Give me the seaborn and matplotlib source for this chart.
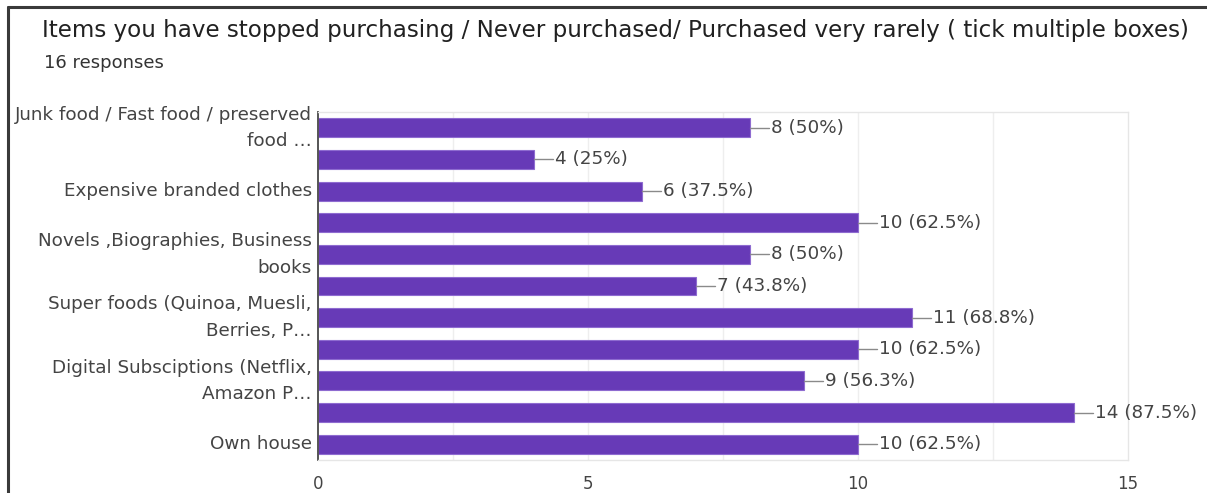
from decimal import Decimal, ROUND_HALF_UP
import numpy as np
import pandas as pd
import matplotlib
matplotlib.use("Agg")
import matplotlib.pyplot as plt
from matplotlib.lines import Line2D
import seaborn as sns

# Survey question and response count
title = "Items you have stopped purchasing / Never purchased/ Purchased very rarely ( tick multiple boxes)"
subtitle = "16 responses"
total_responses = 16

# Axis labels shown for the items (alternate rows carry no visible label)
item_labels = [
    "Junk food / Fast food / preserved\nfood \u2026",
    "",
    "Expensive branded clothes",
    "",
    "Novels ,Biographies, Business\nbooks",
    "",
    "Super foods (Quinoa, Muesli,\nBerries, P\u2026",
    "",
    "Digital Subsciptions (Netflix,\nAmazon P\u2026",
    "",
    "Own house",
]
counts = [8, 4, 6, 10, 8, 7, 11, 10, 9, 14, 10]
x_ticks = [0, 5, 10, 15]

df = pd.DataFrame({"row": np.arange(len(counts)), "count": counts})

sns.set_theme(style="white")
plt.rcParams["font.family"] = ["DejaVu Sans"]

fig = plt.figure(figsize=(12.07, 4.93), dpi=100)
ax = fig.add_axes([318 / 1207, 1 - 460 / 493, (1128 - 318) / 1207, (460 - 112) / 493])

purple = "#673ab7"
sns.barplot(data=df, x="count", y="row", orient="h", color=purple,
            width=0.6, saturation=1, edgecolor="#8e6bd0", linewidth=0.8, ax=ax)

ax.set_xlim(0, 15)
ax.set_ylim(len(counts) - 0.5, -0.5)

# light grid every 2.5, labelled ticks every 5
for gx in np.arange(2.5, 15, 2.5):
    ax.axvline(gx, color="#eeeeee", lw=1, zorder=0)
ax.set_xticks(x_ticks)
ax.set_xticklabels([str(t) for t in x_ticks])
ax.set_yticks(np.arange(len(counts)))
ax.set_yticklabels(item_labels, linespacing=1.6)
ax.tick_params(axis="x", length=0, pad=11, labelsize=12, labelcolor="#444444")
ax.tick_params(axis="y", length=0, pad=4.5, labelsize=13.2, labelcolor="#444444")
for lab in ax.get_yticklabels():
    lab.set_horizontalalignment("right")
    lab.set_verticalalignment("center")
ax.set_xlabel("")
ax.set_ylabel("")

for side in ("top", "right", "bottom"):
    ax.spines[side].set_visible(True)
    ax.spines[side].set_color("#e6e6e6")
    ax.spines[side].set_linewidth(1)
ax.spines["left"].set_color("#555555")
ax.spines["left"].set_linewidth(1.4)


def percent_text(v):
    pct = Decimal(100 * v) / Decimal(total_responses)
    pct = pct.quantize(Decimal("0.1"), rounding=ROUND_HALF_UP)
    txt = f"{pct}"
    return txt[:-2] if txt.endswith(".0") else txt


# value callouts with short leader lines
for i, v in enumerate(counts):
    ax.plot([v, v + 0.35], [i, i], color="#8a8a8a", lw=1, zorder=3)
    ax.text(v + 0.38, i, f"{v} ({percent_text(v)}%)", va="center", ha="left",
            fontsize=13.2, color="#444444")

fig.text(42 / 1207, 1 - 37 / 493, title, fontsize=16.6, color="#212121", va="baseline")
fig.text(44 / 1207, 1 - 68 / 493, subtitle, fontsize=13, color="#333333", va="baseline")

# card frame on the left and top edges
fig.add_artist(Line2D([8 / 1207, 8 / 1207], [0, 1 - 7 / 493], transform=fig.transFigure,
                      color="#3a3a3a", lw=2.2))
fig.add_artist(Line2D([8 / 1207, 1], [1 - 7 / 493, 1 - 7 / 493], transform=fig.transFigure,
                      color="#3a3a3a", lw=2.2))

fig.savefig("out.png", dpi=100)
